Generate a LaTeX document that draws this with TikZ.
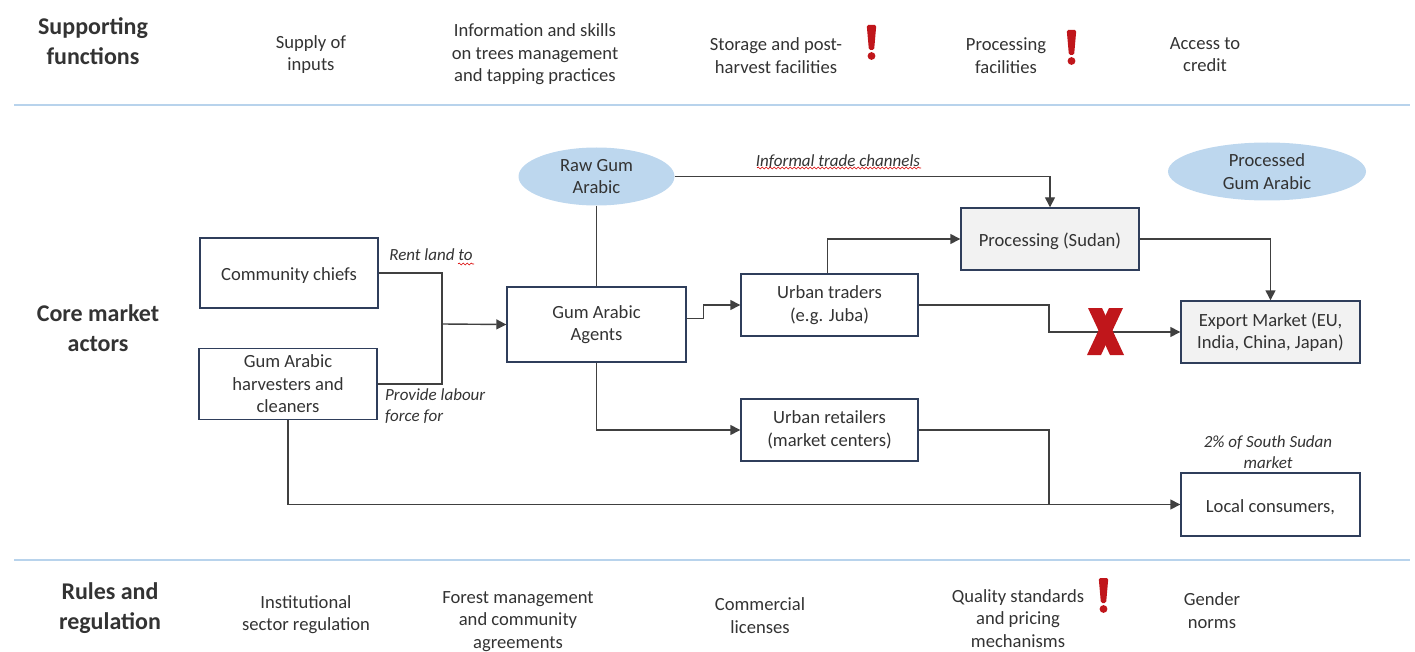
\documentclass[tikz,border=0pt]{standalone}
\usepackage{fontspec}
\setmainfont{Carlito}
\usetikzlibrary{arrows.meta,shapes.geometric,decorations.pathmorphing}
\definecolor{boxc}{HTML}{2F3E5B}
\definecolor{linec}{HTML}{404040}
\definecolor{ovalc}{HTML}{BDD7EE}
\definecolor{sepc}{HTML}{B8D3EC}
\definecolor{grayfill}{HTML}{F2F2F2}
\definecolor{warnred}{HTML}{C0161B}
\definecolor{txt}{HTML}{333333}
\begin{document}
\begin{tikzpicture}[x=1pt,y=-1pt,
  body/.style={font=\fontsize{18.6}{22.5}\selectfont, align=center, text=txt},
  head/.style={font=\bfseries\fontsize{24}{30}\selectfont, align=center, text=txt},
  lbl/.style={font=\itshape\fontsize{17}{21}\selectfont, text=txt},
  box/.style={draw=boxc, line width=1.4pt, minimum width=178pt, minimum height=62pt, inner sep=0pt, body,
              execute at begin node={\rule{0pt}{18pt}}},
  oval/.style={ellipse, fill=ovalc, inner sep=0pt, body},
  conn/.style={draw=linec, line width=1.4pt},
  arr/.style={conn, -{Triangle[length=10pt,width=10pt]}},
  wavy/.style={draw=red!85!black, line width=0.6pt, decorate, decoration={snake, amplitude=1pt, segment length=4pt}},
  excl/.pic={\fill[warnred, rounded corners=1.5pt] (-4.8,-16) -- (4.8,-16) -- (2.6,9) -- (-2.6,9) -- cycle;
             \fill[warnred] (0,15) circle (3.9);}
]
\useasboundingbox (0,0) rectangle (1415,652);

% separators
\draw[sepc, line width=2pt] (14,105) -- (1410,105);
\draw[sepc, line width=2pt] (14,560) -- (1410,560);

% row headings
\node[head] (hsup) at (93,41) {Supporting\\functions};
\node[head] (hcore) at (98,328) {Core market\\actors};
\node[head] (hrules) at (110,608) {Rules and\\regulation};

% supporting functions
\node[body] (s1) at (311,54.5) {Supply of\\inputs};
\node[body] (s2) at (535,54.5) {Information and skills\\on trees management\\and tapping practices};
\node[body] (s3) at (776,55.5) {Storage and post-\\harvest facilities};
\node[body] (s4) at (1006,55.5) {Processing\\facilities};
\node[body] (s5) at (1205,54.5) {Access to\\credit};
\pic at (871.5,41) {excl};
\pic at (1071.5,46) {excl};

% rules and regulation
\node[body] (r1) at (306,614.5) {Institutional\\sector regulation};
\node[body] (r2) at (518,621.5) {Forest management\\and community\\agreements};
\node[body] (r3) at (760,615.5) {Commercial\\licenses};
\node[body] (r4) at (1018,618.5) {Quality standards\\and pricing\\mechanisms};
\node[body] (r5) at (1212,610.5) {Gender\\norms};
\pic at (1103.5,594) {excl};

% core actors
\node[box, minimum height=70pt] (chiefs) at (289,273) {Community chiefs};
\node[box, minimum height=71pt] (harv) at (288,384) {Gum Arabic\\harvesters and\\cleaners};
\node[box, minimum width=179pt, minimum height=75pt] (agents) at (596.5,324.5) {Gum Arabic\\Agents};
\node[oval, minimum width=156pt, minimum height=58pt] (raw) at (596.5,176.5) {Raw Gum\\Arabic};
\node[box, minimum width=177pt] (traders) at (829.5,305) {Urban traders\\(e.g. Juba)};
\node[box, minimum width=177pt] (retail) at (829.5,430) {Urban retailers\\(market centers)};
\node[box, fill=grayfill] (proc) at (1050,239) {Processing (Sudan)};
\node[oval, minimum width=198pt, minimum height=58pt] (procg) at (1267,171.5) {Processed\\Gum Arabic};
\node[box, fill=grayfill, minimum width=179pt] (export) at (1270.5,332) {Export Market (EU,\\India, China, Japan)};
\node[box, minimum width=179pt, minimum height=63pt] (local) at (1270.5,504.5) {Local consumers,};

% labels
\node[lbl] (lrent) at (431,255) {Rent land to};
\node[lbl, align=left, anchor=north west, inner sep=0pt] (llab) at (385,388) {Provide labour\\force for};
\node[lbl] (linf) at (838,162) {Informal trade channels};
\node[lbl, align=center] (lpct) at (1268,452) {2\% of South Sudan\\market};
\draw[wavy] (757,168) -- (921,168);
\draw[wavy] (458,264) -- (474,264);

% junctions
\coordinate (j1) at (442,324);
\coordinate (j2) at (1049,504.5);
\coordinate (t1) at (1049,305);

% connectors
\draw[conn] (chiefs.east) -| (j1);
\draw[conn] (harv.east) -| (j1);
\draw[arr] (j1) -- (agents.west);
\draw[conn] (raw.south) -- (agents.north);
\draw[arr] (raw.east) -| (proc.north);
\draw[arr] ([yshift=6pt]agents.east) -- ++(17,0) |- (traders.west);
\draw[arr] ([xshift=-2pt]traders.north) |- (proc.west);
\draw[arr] (proc.east) -| (export.north);
\draw[arr] (traders.east) -- (t1) |- (export.west);
\draw[arr] (agents.south) |- (retail.west);
\draw[conn] (retail.east) -| (j2);
\draw[arr] (harv.south) |- (local.west);

% red cross
\fill[warnred] (1088,308) -- (1102,308) -- (1124,355) -- (1110,355) -- cycle;
\fill[warnred] (1109,308) -- (1123,308) -- (1101,355) -- (1087,355) -- cycle;
\end{tikzpicture}
\end{document}
